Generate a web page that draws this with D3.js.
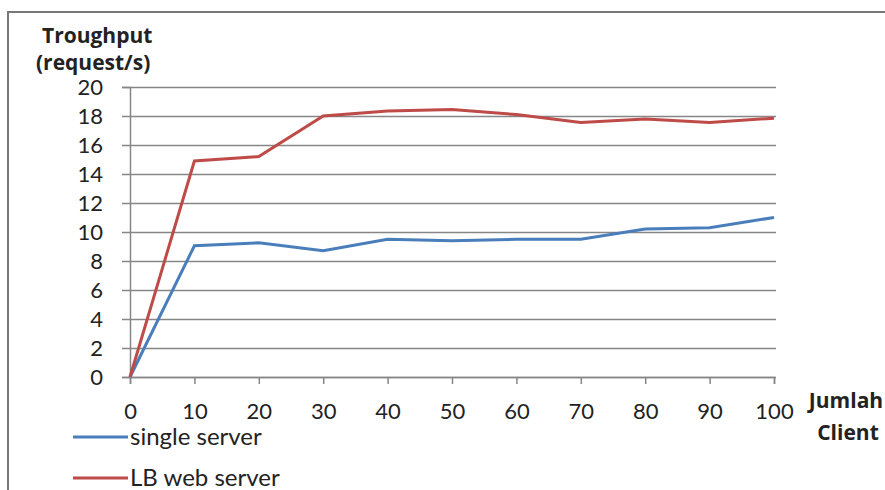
<!DOCTYPE html>
<meta charset="utf-8">
<style>
    body { margin: 0; background: #fff; }
    text { font-family: Lato, "Open Sans", sans-serif; fill: #222; }
    .tick text { font-size: 22px; }
    .title { font-family: "Open Sans", sans-serif; font-size: 21px; font-weight: bold; }
</style>
<body>
<script src="https://d3js.org/d3.v7.min.js"></script>
<script>
    let width = 885;
    let height = 490;

    // data
    let clients = [0, 10, 20, 30, 40, 50, 60, 70, 80, 90, 100];
    let singleServer = [0, 9.05, 9.25, 8.7, 9.5, 9.4, 9.5, 9.5, 10.2, 10.3, 11.0];
    let lbWebServer = [0, 14.9, 15.2, 18.0, 18.35, 18.45, 18.1, 17.55, 17.8, 17.55, 17.85];
    let yTicks = [0, 2, 4, 6, 8, 10, 12, 14, 16, 18, 20];
    let seriesNames = ["single server", "LB web server"];
    let seriesColors = ["#4a7ebb", "#be4b48"];

    let svg = d3.select("body").append("svg")
        .attr("width", width)
        .attr("height", height);

    // outer frame of the scanned figure
    svg.append("rect")
        .attr("x", 8).attr("y", 12)
        .attr("width", 900).attr("height", 500)
        .attr("fill", "none")
        .attr("stroke", "#777")
        .attr("stroke-width", 2);

    let x = d3.scaleLinear().domain([0, 100]).range([130, 774]);
    let y = d3.scaleLinear().domain([0, 20]).range([377, 87]);

    // horizontal gridlines + y axis
    let yAxis = svg.append("g")
        .attr("transform", "translate(130,0)")
        .call(d3.axisLeft(y).tickValues(yTicks).tickSize(8).tickPadding(19)
            .tickFormat(d3.format("d")));
    yAxis.select(".domain").attr("stroke", "#868686").attr("stroke-width", 1.5);
    yAxis.selectAll(".tick line").attr("stroke", "#868686").attr("stroke-width", 1.5)
        .attr("x1", -8).attr("x2", 774 - 130 + 2);
    yAxis.selectAll(".tick text").attr("dy", "0.36em");

    // x axis
    let xAxis = svg.append("g")
        .attr("transform", "translate(0,377)")
        .call(d3.axisBottom(x).tickValues(clients).tickSize(7).tickPadding(19)
            .tickFormat(d3.format("d")));
    xAxis.select(".domain").attr("stroke", "#868686").attr("stroke-width", 1.5);
    xAxis.selectAll(".tick line").attr("stroke", "#868686").attr("stroke-width", 1.5);

    // lines
    let line = d3.line()
        .x(function(d, i) { return x(clients[i]); })
        .y(function(d) { return y(d); });

    [singleServer, lbWebServer].forEach(function(values, i) {
        svg.append("path")
            .datum(values)
            .attr("d", line)
            .attr("fill", "none")
            .attr("stroke", seriesColors[i])
            .attr("stroke-width", 3);
    });

    // axis titles
    svg.append("text").attr("class", "title").attr("x", 42).attr("y", 43).text("Troughput");
    svg.append("text").attr("class", "title").attr("x", 36).attr("y", 70).text("(request/s)");
    svg.append("text").attr("class", "title").attr("x", 846).attr("y", 408)
        .attr("text-anchor", "middle").text("Jumlah");
    svg.append("text").attr("class", "title").attr("x", 848).attr("y", 440)
        .attr("text-anchor", "middle").text("Client");

    // legend
    let legend = svg.append("g");
    seriesNames.forEach(function(name, i) {
        let ly = 437 + i * 41;
        legend.append("line")
            .attr("x1", 73).attr("x2", 128)
            .attr("y1", ly).attr("y2", ly)
            .attr("stroke", seriesColors[i])
            .attr("stroke-width", 3);
        legend.append("text")
            .attr("x", 130).attr("y", ly + 8)
            .style("font-size", "24px")
            .text(name);
    });
</script>
</body>
